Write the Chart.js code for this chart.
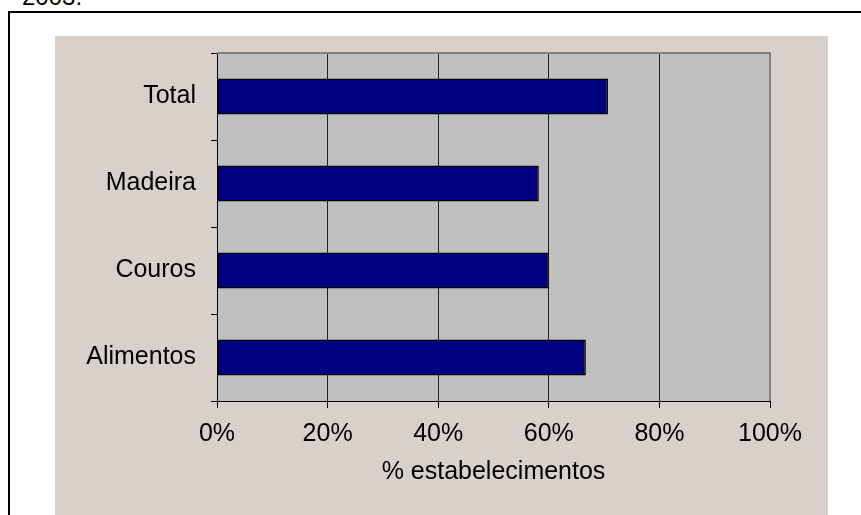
<!DOCTYPE html>
<html>
<head>
<meta charset="utf-8">
<script src="https://cdn.jsdelivr.net/npm/chart.js@4/dist/chart.umd.min.js"></script>
<style>
  html, body { margin: 0; padding: 0; background: #fff; overflow: hidden; }
  body { width: 861px; height: 515px; position: relative; font-family: "Liberation Sans", Arial, sans-serif; }
  #caption { position: absolute; left: 22px; top: -15px; font-size: 24px; line-height: 23px; color: #000; }
  #frame { position: absolute; left: 8px; top: 11px; width: 900px; height: 600px; border: 2px solid #000; }
  #panel { position: absolute; left: 55px; top: 36px; width: 773px; height: 479px; background: #d8d0ca; }
  #chart { display: block; }
</style>
</head>
<body>
<div id="caption">2003.</div>
<div id="frame"></div>
<div id="panel"><canvas id="chart" width="773" height="479"></canvas></div>
<script>
// sectors, top to bottom
const categories = ['Total', 'Madeira', 'Couros', 'Alimentos'];
// share of establishments (%)
const shares = [70.7, 58.2, 60.0, 66.7];
const xTicks = [0, 20, 40, 60, 80, 100];

const labelFont = { family: '"Liberation Sans", Arial, sans-serif', size: 25 };

// grey plot background and the grey top/right edge
const plotBox = {
  id: 'plotBox',
  beforeDraw(chart) {
    const { ctx, chartArea: a } = chart;
    ctx.save();
    ctx.fillStyle = '#c0c0c0';
    ctx.fillRect(a.left, a.top, a.right - a.left, a.bottom - a.top);
    ctx.restore();
  },
  beforeDatasetsDraw(chart) {
    const { ctx, chartArea: a } = chart;
    ctx.save();
    ctx.strokeStyle = '#808080';
    ctx.lineWidth = 2;
    ctx.beginPath();
    ctx.moveTo(a.left, a.top);
    ctx.lineTo(a.right, a.top);
    ctx.lineTo(a.right, a.bottom);
    ctx.stroke();
    ctx.restore();
  }
};

new Chart(document.getElementById('chart'), {
  type: 'bar',
  data: {
    labels: categories,
    datasets: [{
      data: shares,
      backgroundColor: '#000080',
      borderColor: '#000000',
      borderWidth: 1.5,
      borderSkipped: false,
      categoryPercentage: 0.8,
      barPercentage: 0.52
    }]
  },
  plugins: [plotBox],
  options: {
    indexAxis: 'y',
    responsive: false,
    animation: false,
    layout: { padding: { left: 0, top: 17, right: 58, bottom: 0 } },
    plugins: { legend: { display: false }, tooltip: { enabled: false } },
    scales: {
      x: {
        min: 0,
        max: 100,
        afterBuildTicks(scale) { scale.ticks = xTicks.map(v => ({ value: v })); },
        afterFit(scale) {
          scale.height = 114;
          scale.paddingLeft = 0;
          scale.paddingRight = 0;
        },
        grid: {
          color: ctx => ctx.tick && ctx.tick.value === 100 ? 'rgba(0,0,0,0)' : '#202020',
          tickColor: '#000',
          lineWidth: 1,
          tickLength: 7
        },
        border: { color: '#000', width: 1 },
        ticks: {
          color: '#000',
          font: labelFont,
          padding: 11,
          callback: v => v + '%'
        },
        title: {
          display: true,
          text: '% estabelecimentos',
          color: '#000',
          font: labelFont,
          padding: { top: 0, bottom: 28 }
        }
      },
      y: {
        afterFit(scale) {
          scale.width = 162;
          scale.paddingTop = 0;
          scale.paddingBottom = 0;
        },
        grid: {
          offset: true,
          drawOnChartArea: false,
          color: '#000',
          tickLength: 6
        },
        border: { color: '#000', width: 1 },
        ticks: {
          color: '#000',
          font: labelFont,
          padding: 15
        }
      }
    }
  }
});
</script>
</body>
</html>
